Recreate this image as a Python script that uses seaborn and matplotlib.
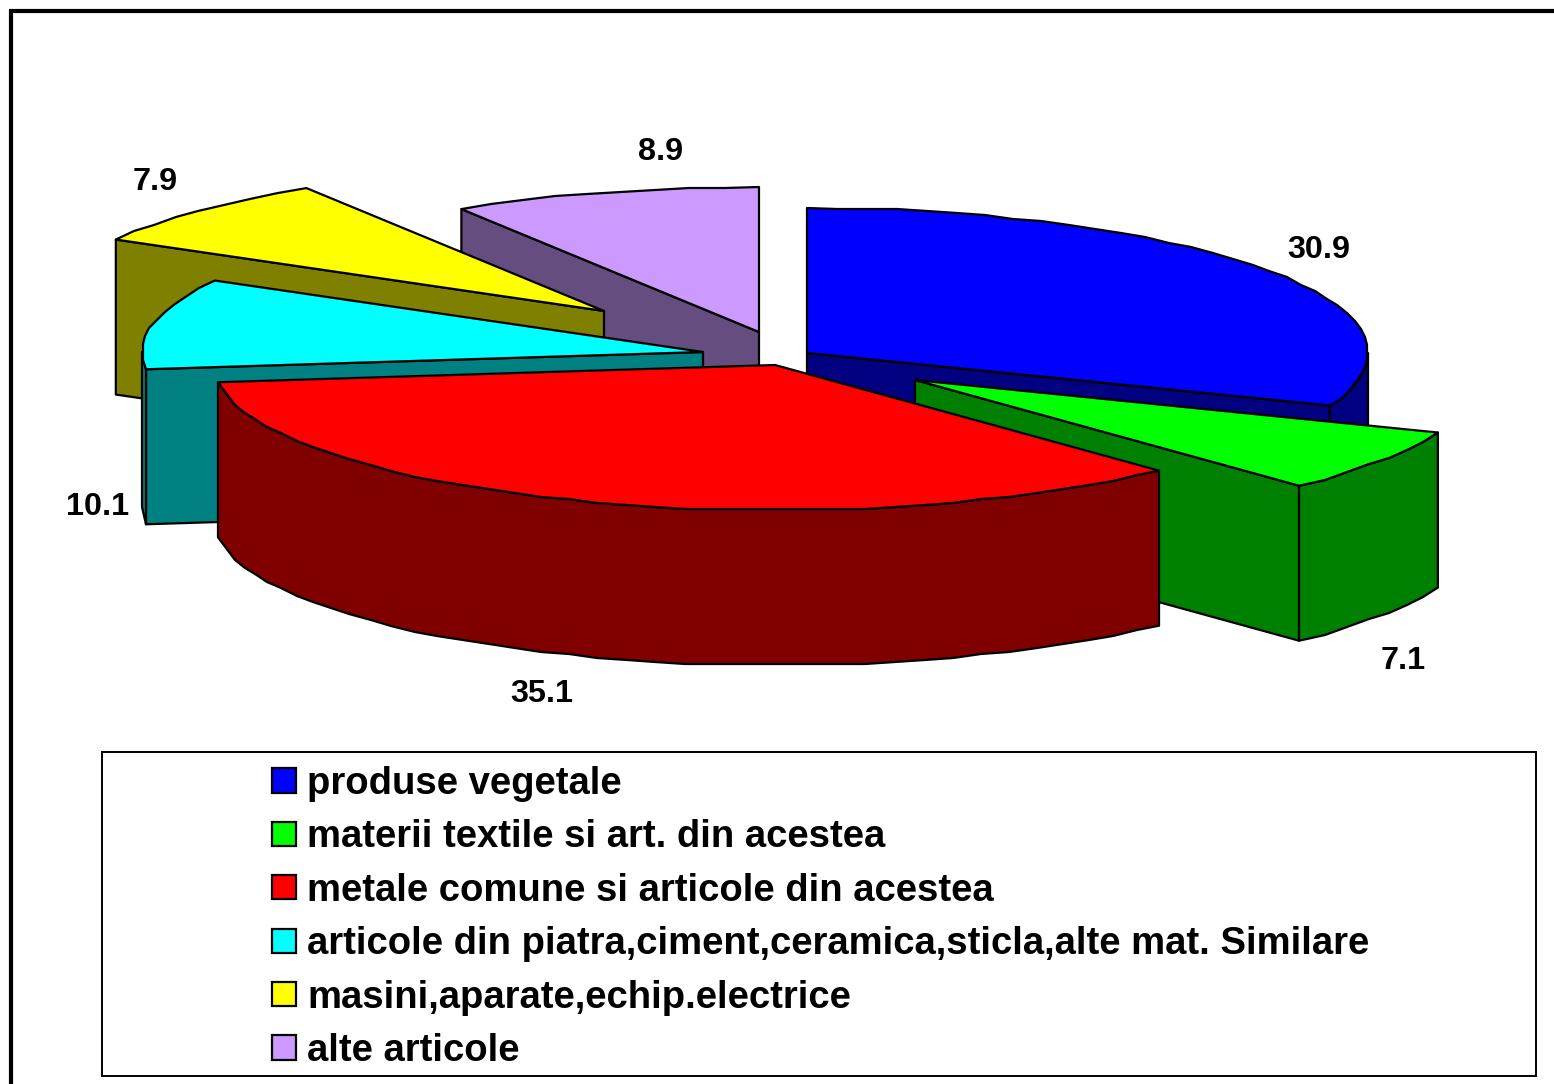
import numpy as np
import matplotlib
matplotlib.use("Agg")
import matplotlib.pyplot as plt
from matplotlib.patches import Patch, Polygon, Rectangle
from matplotlib.colors import to_rgb
import seaborn as sns

# Date
categorii = ['produse vegetale', 'materii textile si art. din acestea',
             'metale comune si articole din acestea',
             'articole din piatra,ciment,ceramica,sticla,alte mat. Similare',
             'masini,aparate,echip.electrice', 'alte articole']
valori = [30.9, 7.1, 35.1, 10.1, 7.9, 8.9]
etichete = ['30.9', '7.1', '35.1', '10.1', '7.9', '8.9']
culori = ['#0000FF', '#00FF00', '#FF0000', '#00FFFF', '#FFFF00', '#CC99FF']

# Asezare (pixeli in imagine)
varfuri = [(807, 353), (915, 380), (775, 365), (703, 352), (604, 311), (759, 332)]
poz_etichete = [(1319, 250), (1403, 661), (542, 694), (98, 507), (155, 182), (661, 152)]
ordine = [5, 4, 3, 0, 1, 2]
rx, ry, adancime = 561, 145, 155
pas_grila = 2

sns.set_theme(style='white')
plt.rcParams['font.family'] = ['Liberation Sans', 'DejaVu Sans']

fig = plt.figure(figsize=(15.54, 10.84), dpi=100)
ax = fig.add_axes([0, 0, 1, 1])
ax.set_xlim(0, 1554)
ax.set_ylim(1084, 0)
ax.axis('off')


def arc(varf, a, b):
    # marginea feliei, cu trepte mici ca in graficul original
    t = np.radians(np.linspace(a, b, max(int((b - a) / 3), 2)))
    dx = rx * np.sin(t)
    dy = -ry * np.cos(t)
    dx[1:-1] = np.round(dx[1:-1] / pas_grila) * pas_grila
    dy[1:-1] = np.round(dy[1:-1] / pas_grila) * pas_grila
    return np.column_stack([varf[0] + dx, varf[1] + dy])


def fata(pts, culoare, z):
    ax.add_patch(Polygon(pts, closed=True, facecolor=culoare, edgecolor='black',
                         linewidth=1.6, joinstyle='round', zorder=z))


capete = np.cumsum([0] + valori) / sum(valori) * 360
for k, i in enumerate(ordine):
    a, b = capete[i], capete[i + 1]
    v = varfuri[i]
    inchis = tuple(c * 0.5 for c in to_rgb(culori[i]))
    z = 2 + k
    jos = np.array([0, adancime])
    # pereti interiori, doar cei vazuti
    for unghi, vizibil in ((a, np.sin(np.radians(a)) < 0), (b, np.sin(np.radians(b)) > 0)):
        if vizibil:
            p = arc(v, unghi, unghi + 1e-6)[0]
            fata([v, p, p + jos, np.array(v) + jos], inchis, z)
    # marginea din fata
    r0, r1 = max(a, 90), min(b, 270)
    if r1 > r0:
        m = arc(v, r0, r1)
        fata(np.vstack([m, (m + jos)[::-1]]), inchis, z)
    fata(np.vstack([[v], arc(v, a, b)]), culori[i], z)

for text, (x, y) in zip(etichete, poz_etichete):
    ax.text(x, y, text, ha='center', va='center', fontsize=23.3, fontweight='bold',
            color='black', zorder=20)

# Rama si caseta legendei
ax.add_line(plt.Line2D([10.5, 10.5, 1554], [1084, 10.5, 10.5], color='black', linewidth=3,
                       solid_joinstyle='miter', zorder=25))
ax.add_patch(Rectangle((101.5, 751.5), 1434.5, 324.5, facecolor='none', edgecolor='black',
                       linewidth=1.4, zorder=25))

font_pt = 27.5
font_px = font_pt / 0.72
handles = [Patch(facecolor=c, edgecolor='black', linewidth=1.6) for c in culori]
leg = ax.legend(handles, categorii, loc='upper left', bbox_to_anchor=(272, 766),
                bbox_transform=ax.transData, frameon=False, borderpad=0, borderaxespad=0,
                handlelength=24 / font_px, handleheight=23 / font_px,
                handletextpad=11 / font_px, labelspacing=17.4 / font_px,
                prop={'family': 'Liberation Sans', 'weight': 'bold', 'size': font_pt})
leg.set_zorder(30)
for t in leg.get_texts():
    t.set_color('black')

fig.savefig('out.png', dpi=100, facecolor='white')
